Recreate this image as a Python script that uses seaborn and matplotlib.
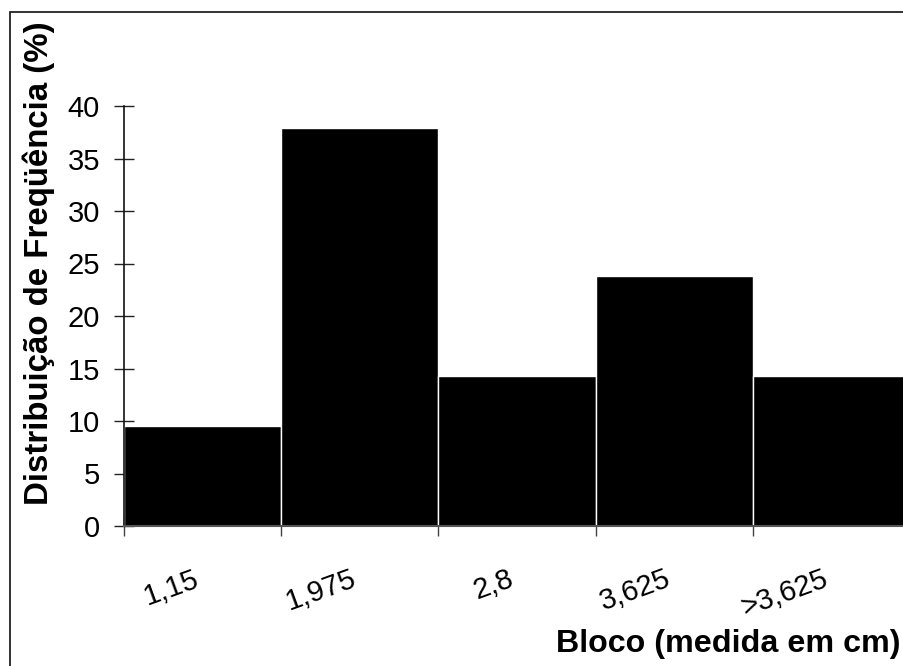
import matplotlib
matplotlib.use("Agg")
import matplotlib.pyplot as plt
import seaborn as sns
import pandas as pd
from matplotlib.patches import Rectangle

categories = ["1,15", "1,975", "2,8", "3,625", ">3,625"]
values = [9.5, 37.9, 14.3, 23.8, 14.3]
y_ticks = [0, 5, 10, 15, 20, 25, 30, 35, 40]

sns.set_style("white")
plt.rcParams['font.family'] = ['Liberation Sans', 'DejaVu Sans']
plt.rcParams.update({"text.color": "black", "axes.labelcolor": "black",
                     "xtick.color": "black", "ytick.color": "black"})

W, H = 904, 666
fig = plt.figure(figsize=(W / 100, H / 100), dpi=100)
fig.patch.set_facecolor("white")

# figure border (cropped on right and bottom)
fig.patches.append(Rectangle((10 / W, -0.1), 1.2, 1 - 12 / H + 0.1,
                             transform=fig.transFigure, fill=False,
                             edgecolor="#222222", linewidth=1.3, zorder=0))

left, right, bottom, top = 124, 910, 526, 106
ax = fig.add_axes([left / W, 1 - bottom / H, (right - left) / W, (bottom - top) / H])
ax.set_facecolor("none")

df = pd.DataFrame({"cat": categories, "val": values})
sns.barplot(data=df, x="cat", y="val", ax=ax, color="black", width=1.0,
            edgecolor="white", linewidth=1.0, saturation=1)
for p in ax.patches:
    p.set_facecolor("black")

n = len(categories)
ax.set_xlim(-0.5, n - 0.5)
ax.set_ylim(0, 40)

ax.set_yticks(y_ticks)
ax.set_yticklabels([str(t) for t in y_ticks])

# major ticks at bin boundaries (no labels), minor ticks at centers with labels
ax.set_xticks([i - 0.5 for i in range(n + 1)])
ax.set_xticklabels([""] * (n + 1))
ax.set_xticks(list(range(n)), minor=True)
ax.set_xticklabels(categories, minor=True)

ax.tick_params(axis="y", which="major", direction="inout", length=14.4, width=1,
               color="#222222", labelsize=21, pad=10, left=True, labelcolor="black")
ax.tick_params(axis="x", which="major", direction="inout", length=14.4, width=1,
               color="#444444", bottom=True)
ax.tick_params(axis="x", which="minor", length=0, labelsize=21, pad=28,
               labelrotation=20, bottom=True, labelcolor="black")
for lbl in ax.get_xticklabels(minor=True):
    lbl.set_ha("right")
    lbl.set_va("top")

for s in ["top", "right"]:
    ax.spines[s].set_visible(False)
ax.spines["left"].set_color("#111111")
ax.spines["left"].set_linewidth(1.2)
ax.spines["bottom"].set_color("#555555")
ax.spines["bottom"].set_linewidth(1.5)

ax.set_xlabel("Bloco (medida em cm)", fontsize=23.2, fontweight="bold",
              ha="right", va="baseline", color="black")
ax.xaxis.set_label_coords((901 - left) / (right - left), (bottom - 652) / (bottom - top))
ax.set_ylabel("Distribuição de Freqüência (%)", fontsize=23.8, fontweight="bold",
              va="center", color="black")
ax.yaxis.set_label_coords((39 - left) / (right - left), (bottom - 263) / (bottom - top))

fig.savefig("out.png", dpi=100)
